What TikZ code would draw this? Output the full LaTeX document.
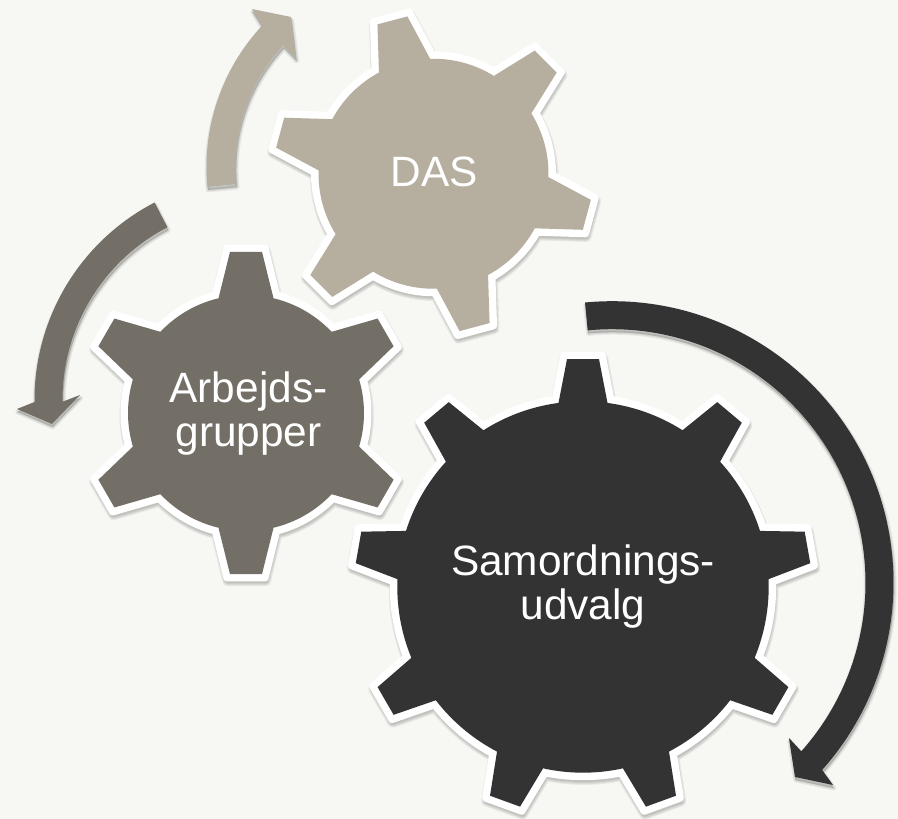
\documentclass[tikz,border=0pt]{standalone}
\usepackage{fontspec}
\setmainfont{Liberation Sans}
\definecolor{bgpaper}{HTML}{F7F8F3}
\definecolor{gearlight}{HTML}{B6AE9E}
\definecolor{gearmid}{HTML}{736F67}
\definecolor{geardark}{HTML}{333333}
\tikzset{
  gearhalo/.style={fill=white,draw=white,line width=7.5pt,line join=round},
  softshadow/.style={fill=black,draw=black,line join=round,opacity=.06},
  gearlabel/.style={text=white,align=center,font=\fontsize{42.4}{44}\selectfont,inner sep=0pt},
}
% outline of a gear built from the values set by \setgear
\newcommand{\gearoutline}{%
  ({\gx+\grr*cos(\gs-\gd)},{\gy+\grr*sin(\gs-\gd)})
  \foreach \k in {1,...,\gn}{
    -- ({\gx+\grt*cos(\gs+(\k-1)*360/\gn-\ge)},{\gy+\grt*sin(\gs+(\k-1)*360/\gn-\ge)})
    -- ({\gx+\grt*cos(\gs+(\k-1)*360/\gn+\ge)},{\gy+\grt*sin(\gs+(\k-1)*360/\gn+\ge)})
    -- ({\gx+\grr*cos(\gs+(\k-1)*360/\gn+\gd)},{\gy+\grr*sin(\gs+(\k-1)*360/\gn+\gd)})
    arc[start angle={\gs+(\k-1)*360/\gn+\gd},delta angle={360/\gn-2*\gd},radius=\grr]
  } -- cycle}
% root radius, tip radius, root half width, tip half width, outward offset
\newcommand{\setgear}[5]{%
  \pgfmathsetmacro\gslope{(#3-#4)/(#2-#1)}%
  \pgfmathsetmacro\gextra{#5*sqrt(1+\gslope*\gslope)-#5*\gslope}%
  \pgfmathsetmacro\grr{#1+#5}%
  \pgfmathsetmacro\grt{#2+#5}%
  \pgfmathsetmacro\gd{asin((#3+\gextra)/\grr)}%
  \pgfmathsetmacro\ge{asin((#4+\gextra)/\grt)}%
}
% colour, cx, cy, teeth, first tooth angle, root radius, tip radius, root half width, tip half width
\newcommand{\drawgear}[9]{%
  \def\gx{#2}\def\gy{#3}\def\gn{#4}\def\gs{#5}%
  \setgear{#6}{#7}{#8}{#9}{3.75}%
  \path[softshadow,line width=11pt,shift={(.7,-3)}] \gearoutline;
  \path[softshadow,line width=9pt,shift={(.7,-3)}] \gearoutline;
  \path[softshadow,line width=7pt,shift={(.7,-3)}] \gearoutline;
  \path[softshadow,line width=5pt,shift={(.7,-3)}] \gearoutline;
  \path[gearhalo] \gearoutline;
  \setgear{#6}{#7}{#8}{#9}{0}%
  \path[fill=#1] \gearoutline;
}
% cx, cy, outer r, inner r, start angle, end angle, head points
\newcommand{\arrowoutline}[7]{%
  ({#1+#3*cos(#5)},{#2+#3*sin(#5)})
  arc[start angle=#5,end angle=#6,radius=#3]
  -- #7
  -- ({#1+#4*cos(#6)},{#2+#4*sin(#6)})
  arc[start angle=#6,end angle=#5,radius=#4] -- cycle}
\newcommand{\curvedarrow}[8]{%
  \path[softshadow,line width=5pt,shift={(.7,-3)}] \arrowoutline{#2}{#3}{#4}{#5}{#6}{#7}{#8};
  \path[softshadow,line width=3pt,shift={(.7,-3)}] \arrowoutline{#2}{#3}{#4}{#5}{#6}{#7}{#8};
  \path[softshadow,line width=1pt,shift={(.7,-3)}] \arrowoutline{#2}{#3}{#4}{#5}{#6}{#7}{#8};
  \path[fill=#1] \arrowoutline{#2}{#3}{#4}{#5}{#6}{#7}{#8};
}
\begin{document}
\begin{tikzpicture}[x=1pt,y=1pt]
  \path[fill=bgpaper,use as bounding box] (0,-819) rectangle (898,0);
  \curvedarrow{gearlight}{414}{-167}{207.5}{178.5}{185.5}{137}{(252,-9) -- (291,-17) -- (296,-58)}
  \curvedarrow{gearmid}{257}{-400}{222.5}{194.5}{117.4}{180.5}{(17,-409) -- (52,-424) -- (80,-395)}
  \curvedarrow{geardark}{612}{-582.7}{281.5}{253.5}{95.5}{-41.7}{(833,-785) -- (795,-777) -- (789,-738)}
  \drawgear{gearlight}{433.5}{-173.75}{6}{-15}{115}{159.5}{26.5}{15.5}
  \drawgear{gearmid}{246}{-413}{6}{30}{118}{162}{27.5}{16}
  \drawgear{geardark}{583}{-587}{9}{10}{185.7}{228.5}{24.5}{16}
  \node[gearlabel] (das) at (434,-172) {DAS};
  \node[gearlabel] (arb) at (248.5,-414) {Arbejds-\\grupper};
  \node[gearlabel] (sam) at (583,-586.5) {Samordnings-\\udvalg};
\end{tikzpicture}
\end{document}
